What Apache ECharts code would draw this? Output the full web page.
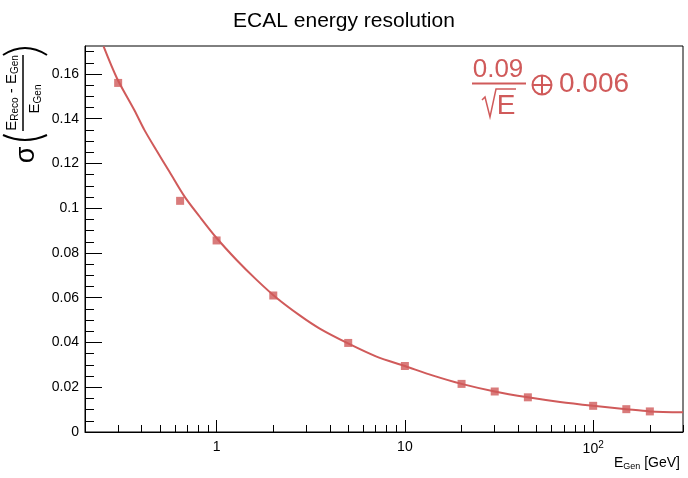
<!DOCTYPE html>
<html>
<head>
<meta charset="utf-8">
<script src="https://cdn.jsdelivr.net/npm/echarts@6/dist/echarts.min.js"></script>
<style>
  html, body { margin: 0; padding: 0; background: #fff; }
  #main { width: 688px; height: 478px; }
</style>
</head>
<body>
<div id="main"></div>
<script>
// 数据点 (E_Gen, 分辨率)
const energies = [0.3, 0.64, 1, 2, 5, 10, 20, 30, 45, 100, 150, 200]
const resolution = [0.156, 0.1033, 0.0856, 0.061, 0.0398, 0.0295, 0.0215, 0.0181, 0.0155, 0.0117, 0.0102, 0.0092]
// 拟合曲线，从图上读出来的点
const fitE = [0.251, 0.296, 0.366, 0.414, 0.478, 0.562, 0.676, 0.812, 1, 1.273, 1.626, 2.078, 2.764, 3.53,
  4.96, 7.07, 10, 14.14, 20, 30, 45, 66.7, 100, 150, 200, 300]
const fitVal = [0.1723, 0.158, 0.1438, 0.1349, 0.126, 0.1163, 0.1052, 0.0963, 0.0867, 0.077, 0.0681, 0.06, 0.0521, 0.0462,
  0.0397, 0.0337, 0.0295, 0.0252, 0.0215, 0.0181, 0.0155, 0.0134, 0.0117, 0.0102, 0.0092, 0.0088]
// 刻度
const xMajor = [1, 10, 100]
const xMinor = [0.3, 0.4, 0.5, 0.6, 0.7, 0.8, 0.9, 2, 3, 4, 5, 6, 7, 8, 9, 20, 30, 40, 50, 60, 70, 80, 90, 200, 300]
const yMajor = [0, 0.02, 0.04, 0.06, 0.08, 0.1, 0.12, 0.14, 0.16]
const yMinor = [0.005, 0.01, 0.015, 0.025, 0.03, 0.035, 0.045, 0.05, 0.055, 0.065, 0.07, 0.075,
  0.085, 0.09, 0.095, 0.105, 0.11, 0.115, 0.125, 0.13, 0.135, 0.145, 0.15, 0.155, 0.165, 0.17]

const RED = '#d05a5a'
const FONT = '"Liberation Sans", Arial, sans-serif'

const option = {
  animation: false,
  backgroundColor: '#fff',
  title: {
    text: 'ECAL energy resolution',
    left: 'center',
    top: 6,
    textStyle: { fontFamily: FONT, fontSize: 21, fontWeight: 'normal', color: '#000' }
  },
  grid: {
    left: 85, right: 5, top: 46, bottom: 46,
    show: true, borderColor: '#000', borderWidth: 1,
    outerBoundsMode: 'none'
  },
  xAxis: [
    {
      type: 'log', logBase: 10, min: 0.2, max: 300,
      axisLine: { lineStyle: { color: '#000', width: 1 } },
      axisTick: { inside: true, length: 12, customValues: xMajor, lineStyle: { color: '#000' } },
      axisLabel: {
        customValues: xMajor,
        margin: 8,
        fontFamily: FONT, fontSize: 14, color: '#000',
        formatter: v => (v === 100 ? '10{sup|2}' : String(v)),
        rich: { sup: { fontFamily: FONT, fontSize: 10, color: '#000', padding: [0, 0, 9, 0] } }
      },
      splitLine: { show: false }
    },
    {
      type: 'log', logBase: 10, min: 0.2, max: 300, position: 'bottom',
      axisLine: { show: false },
      axisTick: { inside: true, length: 7, customValues: xMinor, lineStyle: { color: '#000' } },
      axisLabel: { show: false },
      splitLine: { show: false }
    }
  ],
  yAxis: [
    {
      type: 'value', min: 0, max: 0.1725,
      axisLine: { show: true, lineStyle: { color: '#000', width: 1 } },
      axisTick: { inside: true, length: 17, customValues: yMajor, lineStyle: { color: '#000' } },
      axisLabel: {
        customValues: yMajor,
        margin: 6,
        fontFamily: FONT, fontSize: 14, color: '#000',
        formatter: v => String(+v.toFixed(3))
      },
      splitLine: { show: false }
    },
    {
      type: 'value', min: 0, max: 0.1725, position: 'left',
      axisLine: { show: false },
      axisTick: { inside: true, length: 9, customValues: yMinor, lineStyle: { color: '#000' } },
      axisLabel: { show: false },
      splitLine: { show: false }
    }
  ],
  series: [
    {
      name: 'fit',
      type: 'line',
      smooth: 0.3,
      showSymbol: false,
      clip: true,
      lineStyle: { color: RED, width: 2 },
      data: fitE.map((e, i) => [e, fitVal[i]])
    },
    {
      name: 'points',
      type: 'scatter',
      symbol: 'rect',
      symbolSize: 8,
      itemStyle: { color: RED },
      data: energies.map((e, i) => [e, resolution[i]])
    }
  ],
  graphic: [
    // 公式 0.09/√E ⊕ 0.006
    { type: 'text', x: 498, y: 70, style: { text: '0.09', fontFamily: FONT, fontSize: 26, fill: RED, align: 'center', verticalAlign: 'middle' } },
    { type: 'line', shape: { x1: 472, y1: 83.5, x2: 526, y2: 83.5 }, style: { stroke: RED, lineWidth: 2 } },
    { type: 'polyline', shape: { points: [[482, 100], [485, 97], [490, 117], [496, 89], [516, 89]] }, style: { stroke: RED, lineWidth: 1.5, fill: null } },
    { type: 'text', x: 506, y: 106, style: { text: 'E', fontFamily: FONT, fontSize: 28, fill: RED, align: 'center', verticalAlign: 'middle' } },
    { type: 'circle', shape: { cx: 542, cy: 85, r: 9.5 }, style: { stroke: RED, lineWidth: 2, fill: null } },
    { type: 'line', shape: { x1: 532.5, y1: 85, x2: 551.5, y2: 85 }, style: { stroke: RED, lineWidth: 2 } },
    { type: 'line', shape: { x1: 542, y1: 75.5, x2: 542, y2: 94.5 }, style: { stroke: RED, lineWidth: 2 } },
    { type: 'text', x: 559, y: 84, style: { text: '0.006', fontFamily: FONT, fontSize: 28, fill: RED, align: 'left', verticalAlign: 'middle' } },
    // x轴标题
    {
      type: 'text', x: 680, y: 463,
      style: {
        text: '{b|E}{s|Gen}{b| [GeV]}',
        align: 'right', verticalAlign: 'middle',
        rich: {
          b: { fontFamily: FONT, fontSize: 14, fill: '#000' },
          s: { fontFamily: FONT, fontSize: 9, fill: '#000', padding: [7, 0, 0, 0] }
        }
      }
    },
    // y轴标题，整体旋转
    {
      type: 'group', x: 25, y: 95, rotation: Math.PI / 2,
      children: [
        { type: 'text', x: -60, y: 2, style: { text: 'σ', fontFamily: FONT, fontSize: 27, fill: '#000', align: 'center', verticalAlign: 'middle' } },
        { type: 'bezierCurve', shape: { x1: -40, y1: -22, cpx1: -50, cpy1: 0, x2: -40, y2: 22 }, style: { stroke: '#000', lineWidth: 2, fill: null } },
        { type: 'bezierCurve', shape: { x1: 40, y1: -22, cpx1: 54, cpy1: 0, x2: 40, y2: 22 }, style: { stroke: '#000', lineWidth: 2, fill: null } },
        {
          type: 'text', x: 2, y: -13,
          style: {
            text: '{b|E}{s|Reco}{b| - E}{s|Gen}',
            align: 'center', verticalAlign: 'middle',
            rich: {
              b: { fontFamily: FONT, fontSize: 15, fill: '#000' },
              s: { fontFamily: FONT, fontSize: 10, fill: '#000', padding: [7, 0, 0, 0] }
            }
          }
        },
        { type: 'line', shape: { x1: -36, y1: -2, x2: 40, y2: -2 }, style: { stroke: '#000', lineWidth: 1.5 } },
        {
          type: 'text', x: -4, y: 10,
          style: {
            text: '{b|E}{s|Gen}',
            align: 'center', verticalAlign: 'middle',
            rich: {
              b: { fontFamily: FONT, fontSize: 15, fill: '#000' },
              s: { fontFamily: FONT, fontSize: 10, fill: '#000', padding: [7, 0, 0, 0] }
            }
          }
        }
      ]
    }
  ]
}

const myChart = echarts.init(document.getElementById('main'))
myChart.setOption(option)
</script>
</body>
</html>
